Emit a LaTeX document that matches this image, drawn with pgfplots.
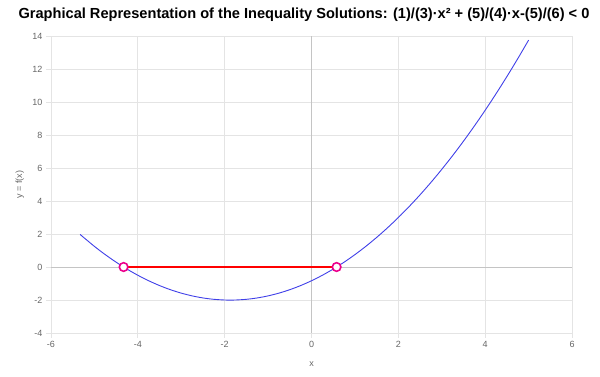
\documentclass[border=0pt]{standalone}
\usepackage{fontspec}
\setmainfont{Liberation Sans}
\usepackage{pgfplots}
\pgfplotsset{compat=1.18}
\definecolor{curve}{HTML}{4040E8}
\definecolor{gridc}{HTML}{E4E4E4}
\definecolor{zeroc}{HTML}{C4C4C4}
\definecolor{tickc}{HTML}{666666}
\begin{document}
\begin{tikzpicture}[x=1pt,y=1pt]
\useasboundingbox (0,0) rectangle (600,376);
\node[font=\bfseries\fontsize{14.6}{16}\selectfont, anchor=center] at (304,361) {Graphical Representation of the Inequality Solutions: (1)/(3)·x² + (5)/(4)·x-(5)/(6) < 0};
\begin{axis}[
  at={(51pt,43pt)}, anchor=south west,
  scale only axis, width=521pt, height=297pt,
  xmin=-6, xmax=6, ymin=-4, ymax=14,
  xtick={-6,-4,...,6}, ytick={-4,-2,...,14},
  axis lines=left,
  axis line style={draw=gridc, -},
  grid=major,
  major grid style={draw=gridc, line width=0.8pt},
  tick align=outside,
  major tick length=5pt,
  tick style={draw=gridc, line width=0.8pt},
  /pgf/number format/assume math mode=true,
  tick label style={font=\fontsize{9}{10}\selectfont, text=tickc},
  xlabel={x}, ylabel={y = f(x)},
  label style={font=\fontsize{9}{10}\selectfont, text=tickc},
  xlabel style={at={(axis description cs:0.5,-0.104)}, anchor=center},
  ylabel style={at={(axis description cs:-0.06,0.5)}, anchor=center},
  clip=false,
]
\addplot[zeroc, line width=0.8pt, forget plot] coordinates {(0,-4) (0,14)};
\addplot[zeroc, line width=0.8pt, forget plot] coordinates {(-6,0) (6,0)};
\addplot[curve, line width=0.9pt, smooth] coordinates {
(-5.33,1.9738) (-5.0,1.25) (-4.75,0.75) (-4.5,0.2917) (-4.25,-0.125) (-4.0,-0.5)
(-3.75,-0.8333) (-3.5,-1.125) (-3.25,-1.375) (-3.0,-1.5833) (-2.75,-1.75) (-2.5,-1.875)
(-2.25,-1.9583) (-2.0,-2.0) (-1.875,-2.0052) (-1.75,-2.0) (-1.5,-1.9583) (-1.25,-1.875) (-1.0,-1.75)
(-0.75,-1.5833) (-0.5,-1.375) (-0.25,-1.125) (0,-0.8333) (0.25,-0.5) (0.5,-0.125)
(0.75,0.2917) (1.0,0.75) (1.25,1.25) (1.5,1.7917) (1.75,2.375) (2.0,3.0)
(2.25,3.6667) (2.5,4.375) (2.75,5.125) (3.0,5.9167) (3.25,6.75) (3.5,7.625)
(3.75,8.5417) (4.0,9.5) (4.25,10.5) (4.5,11.5417) (4.75,12.625) (5.0,13.75)
};
\addplot[red, line width=2.6pt] coordinates {(-4.3277,0) (0.5777,0)};
\addplot[only marks, mark=*, mark size=4.3pt, mark options={draw=magenta, fill=white, line width=1.6pt}] coordinates {(-4.3277,0) (0.5777,0)};
\end{axis}
\end{tikzpicture}
\end{document}
